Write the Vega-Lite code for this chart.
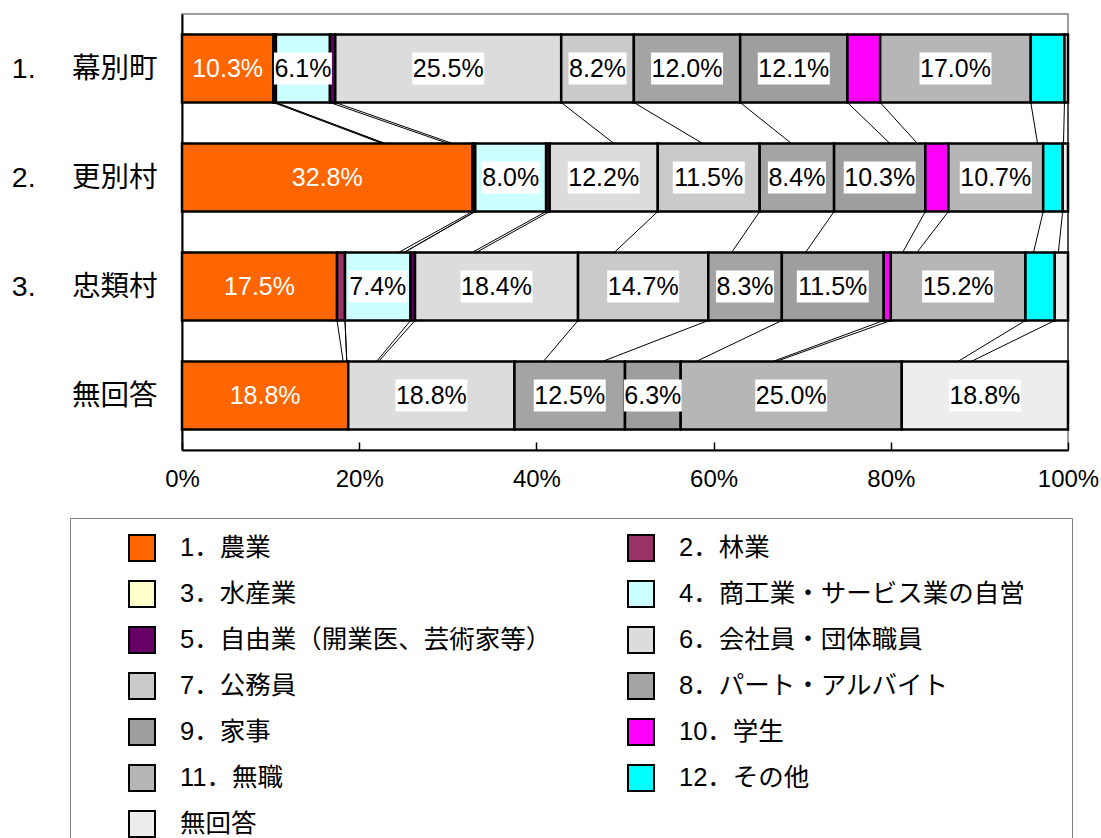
{
  "$schema": "https://vega.github.io/schema/vega-lite/v6.json",
  "width": 886,
  "height": 436,
  "autosize": {"type": "none"},
  "padding": {"left": 182, "top": 14, "right": 33, "bottom": 388},
  "background": "white",
  "config": {
    "font": "Liberation Sans, Noto Sans CJK JP",
    "view": {"stroke": "#808080", "strokeWidth": 1.5}
  },
  "data": {
    "values": [
      {"row": "1. \u3000幕別町", "code": 1, "category": "1．農業", "value": 10.3},
      {"row": "1. \u3000幕別町", "code": 2, "category": "2．林業", "value": 0.3},
      {"row": "1. \u3000幕別町", "code": 3, "category": "3．水産業", "value": 0},
      {"row": "1. \u3000幕別町", "code": 4, "category": "4．商工業・サービス業の自営", "value": 6.1},
      {"row": "1. \u3000幕別町", "code": 5, "category": "5．自由業（開業医、芸術家等）", "value": 0.6},
      {"row": "1. \u3000幕別町", "code": 6, "category": "6．会社員・団体職員", "value": 25.5},
      {"row": "1. \u3000幕別町", "code": 7, "category": "7．公務員", "value": 8.2},
      {"row": "1. \u3000幕別町", "code": 8, "category": "8．パート・アルバイト", "value": 12.0},
      {"row": "1. \u3000幕別町", "code": 9, "category": "9．家事", "value": 12.1},
      {"row": "1. \u3000幕別町", "code": 10, "category": "10．学生", "value": 3.7},
      {"row": "1. \u3000幕別町", "code": 11, "category": "11．無職", "value": 17.0},
      {"row": "1. \u3000幕別町", "code": 12, "category": "12．その他", "value": 3.8},
      {"row": "1. \u3000幕別町", "code": 13, "category": "無回答", "value": 0.4},
      {"row": "2. \u3000更別村", "code": 1, "category": "1．農業", "value": 32.8},
      {"row": "2. \u3000更別村", "code": 2, "category": "2．林業", "value": 0.3},
      {"row": "2. \u3000更別村", "code": 3, "category": "3．水産業", "value": 0},
      {"row": "2. \u3000更別村", "code": 4, "category": "4．商工業・サービス業の自営", "value": 8.0},
      {"row": "2. \u3000更別村", "code": 5, "category": "5．自由業（開業医、芸術家等）", "value": 0.4},
      {"row": "2. \u3000更別村", "code": 6, "category": "6．会社員・団体職員", "value": 12.2},
      {"row": "2. \u3000更別村", "code": 7, "category": "7．公務員", "value": 11.5},
      {"row": "2. \u3000更別村", "code": 8, "category": "8．パート・アルバイト", "value": 8.4},
      {"row": "2. \u3000更別村", "code": 9, "category": "9．家事", "value": 10.3},
      {"row": "2. \u3000更別村", "code": 10, "category": "10．学生", "value": 2.6},
      {"row": "2. \u3000更別村", "code": 11, "category": "11．無職", "value": 10.7},
      {"row": "2. \u3000更別村", "code": 12, "category": "12．その他", "value": 2.2},
      {"row": "2. \u3000更別村", "code": 13, "category": "無回答", "value": 0.6},
      {"row": "3. \u3000忠類村", "code": 1, "category": "1．農業", "value": 17.5},
      {"row": "3. \u3000忠類村", "code": 2, "category": "2．林業", "value": 0.9},
      {"row": "3. \u3000忠類村", "code": 3, "category": "3．水産業", "value": 0},
      {"row": "3. \u3000忠類村", "code": 4, "category": "4．商工業・サービス業の自営", "value": 7.4},
      {"row": "3. \u3000忠類村", "code": 5, "category": "5．自由業（開業医、芸術家等）", "value": 0.5},
      {"row": "3. \u3000忠類村", "code": 6, "category": "6．会社員・団体職員", "value": 18.4},
      {"row": "3. \u3000忠類村", "code": 7, "category": "7．公務員", "value": 14.7},
      {"row": "3. \u3000忠類村", "code": 8, "category": "8．パート・アルバイト", "value": 8.3},
      {"row": "3. \u3000忠類村", "code": 9, "category": "9．家事", "value": 11.5},
      {"row": "3. \u3000忠類村", "code": 10, "category": "10．学生", "value": 0.8},
      {"row": "3. \u3000忠類村", "code": 11, "category": "11．無職", "value": 15.2},
      {"row": "3. \u3000忠類村", "code": 12, "category": "12．その他", "value": 3.3},
      {"row": "3. \u3000忠類村", "code": 13, "category": "無回答", "value": 1.5},
      {"row": "無回答", "code": 1, "category": "1．農業", "value": 18.8},
      {"row": "無回答", "code": 2, "category": "2．林業", "value": 0},
      {"row": "無回答", "code": 3, "category": "3．水産業", "value": 0},
      {"row": "無回答", "code": 4, "category": "4．商工業・サービス業の自営", "value": 0},
      {"row": "無回答", "code": 5, "category": "5．自由業（開業医、芸術家等）", "value": 0},
      {"row": "無回答", "code": 6, "category": "6．会社員・団体職員", "value": 18.8},
      {"row": "無回答", "code": 7, "category": "7．公務員", "value": 0},
      {"row": "無回答", "code": 8, "category": "8．パート・アルバイト", "value": 12.5},
      {"row": "無回答", "code": 9, "category": "9．家事", "value": 6.3},
      {"row": "無回答", "code": 10, "category": "10．学生", "value": 0},
      {"row": "無回答", "code": 11, "category": "11．無職", "value": 25.0},
      {"row": "無回答", "code": 12, "category": "12．その他", "value": 0},
      {"row": "無回答", "code": 13, "category": "無回答", "value": 18.8}
    ]
  },
  "transform": [
    {"stack": "value", "groupby": ["row"], "sort": [{"field": "code"}], "offset": "normalize", "as": ["x0", "x1"]},
    {"calculate": "(datum.x0 + datum.x1) / 2", "as": "mid"},
    {"calculate": "format(datum.value, '.1f') + '%'", "as": "label"}
  ],
  "layer": [
    {
      "transform": [
        {"window": [{"op": "lead", "field": "x1", "as": "nx"}, {"op": "lead", "field": "row", "as": "nrow"}], "groupby": ["code"], "sort": [{"field": "row"}]},
        {"filter": "datum.nrow != null"}
      ],
      "mark": {"type": "rule", "color": "black", "strokeWidth": 1},
      "encoding": {
        "x": {"field": "x1", "type": "quantitative", "scale": {"domain": [0, 1]}},
        "x2": {"field": "nx"},
        "y": {"field": "row", "type": "nominal", "bandPosition": 1, "sort": ["1. \u3000幕別町", "2. \u3000更別村", "3. \u3000忠類村", "無回答"], "scale": {"paddingInner": 0.376, "paddingOuter": 0.188}},
        "y2": {"field": "nrow"}
      }
    },
    {
      "transform": [{"filter": "datum.value > 0"}],
      "mark": {"type": "bar", "stroke": "black", "strokeWidth": 2.5, "opacity": 1},
      "encoding": {
        "x": {"field": "x0", "type": "quantitative", "scale": {"domain": [0, 1]},
          "axis": {"title": null, "format": "%", "values": [0, 0.2, 0.4, 0.6, 0.8, 1], "grid": false, "domainColor": "black", "domainWidth": 2, "tickColor": "black", "tickSize": -8, "tickWidth": 1.5, "labelFontSize": 24, "labelColor": "black", "labelPadding": 25, "labelFlush": false}},
        "x2": {"field": "x1"},
        "y": {"field": "row", "type": "nominal", "sort": ["1. \u3000幕別町", "2. \u3000更別村", "3. \u3000忠類村", "無回答"], "scale": {"paddingInner": 0.376, "paddingOuter": 0.188},
          "axis": {"title": null, "domainColor": "black", "domainWidth": 2, "tickColor": "black", "tickSize": -8, "tickWidth": 1.5, "bandPosition": 0, "labelFontSize": 28.5, "labelColor": "black", "labelPadding": 33, "labelLimit": 0}},
        "color": {"field": "category", "type": "nominal",
          "scale": {
            "domain": ["1．農業", "2．林業", "3．水産業", "4．商工業・サービス業の自営", "5．自由業（開業医、芸術家等）", "6．会社員・団体職員", "7．公務員", "8．パート・アルバイト", "9．家事", "10．学生", "11．無職", "12．その他", "無回答"],
            "range": ["#FF6600", "#993366", "#FFFFCC", "#CCFFFF", "#660066", "#DCDCDC", "#CACACA", "#A4A4A4", "#9E9E9E", "#FF00FF", "#B6B6B6", "#00FFFF", "#EDEDED"]
          },
          "legend": {"title": "\u00a0", "titleOrient": "right", "titleFontSize": 8, "titlePadding": 31, "orient": "none", "legendX": -112, "legendY": 504, "direction": "horizontal", "columns": 2, "symbolType": "square", "symbolSize": 676, "symbolStrokeColor": "black", "symbolStrokeWidth": 2, "symbolOpacity": 1, "labelFontSize": 25.5, "labelColor": "black", "labelOffset": 24, "labelLimit": 0, "rowPadding": 12, "columnPadding": 33, "padding": 16, "strokeColor": "#808080", "fillColor": "white", "symbolOffset": 42}
        }
      }
    },
    {
      "transform": [{"filter": "datum.value >= 10 && datum.code != 1"}],
      "mark": {"type": "point", "filled": true, "shape": "M-1,-0.444L1,-0.444L1,0.444L-1,0.444Z", "size": 5184, "color": "white", "opacity": 1, "strokeWidth": 0},
      "encoding": {
        "x": {"field": "mid", "type": "quantitative", "scale": {"domain": [0, 1]}},
        "y": {"field": "row", "type": "nominal", "sort": ["1. \u3000幕別町", "2. \u3000更別村", "3. \u3000忠類村", "無回答"], "scale": {"paddingInner": 0.376, "paddingOuter": 0.188}}
      }
    },
    {
      "transform": [{"filter": "datum.value >= 5 && datum.value < 10 && datum.code != 1"}],
      "mark": {"type": "point", "filled": true, "shape": "M-1,-0.552L1,-0.552L1,0.552L-1,0.552Z", "size": 3364, "color": "white", "opacity": 1, "strokeWidth": 0},
      "encoding": {
        "x": {"field": "mid", "type": "quantitative", "scale": {"domain": [0, 1]}},
        "y": {"field": "row", "type": "nominal", "sort": ["1. \u3000幕別町", "2. \u3000更別村", "3. \u3000忠類村", "無回答"], "scale": {"paddingInner": 0.376, "paddingOuter": 0.188}}
      }
    },
    {
      "transform": [{"filter": "datum.value >= 5"}],
      "mark": {"type": "text", "fontSize": 25, "align": "center", "baseline": "middle", "font": "Liberation Sans"},
      "encoding": {
        "x": {"field": "mid", "type": "quantitative", "scale": {"domain": [0, 1]}},
        "y": {"field": "row", "type": "nominal", "sort": ["1. \u3000幕別町", "2. \u3000更別村", "3. \u3000忠類村", "無回答"], "scale": {"paddingInner": 0.376, "paddingOuter": 0.188}},
        "text": {"field": "label"},
        "color": {"condition": {"test": "datum.code == 1", "value": "white"}, "value": "black"}
      }
    }
  ]
}
